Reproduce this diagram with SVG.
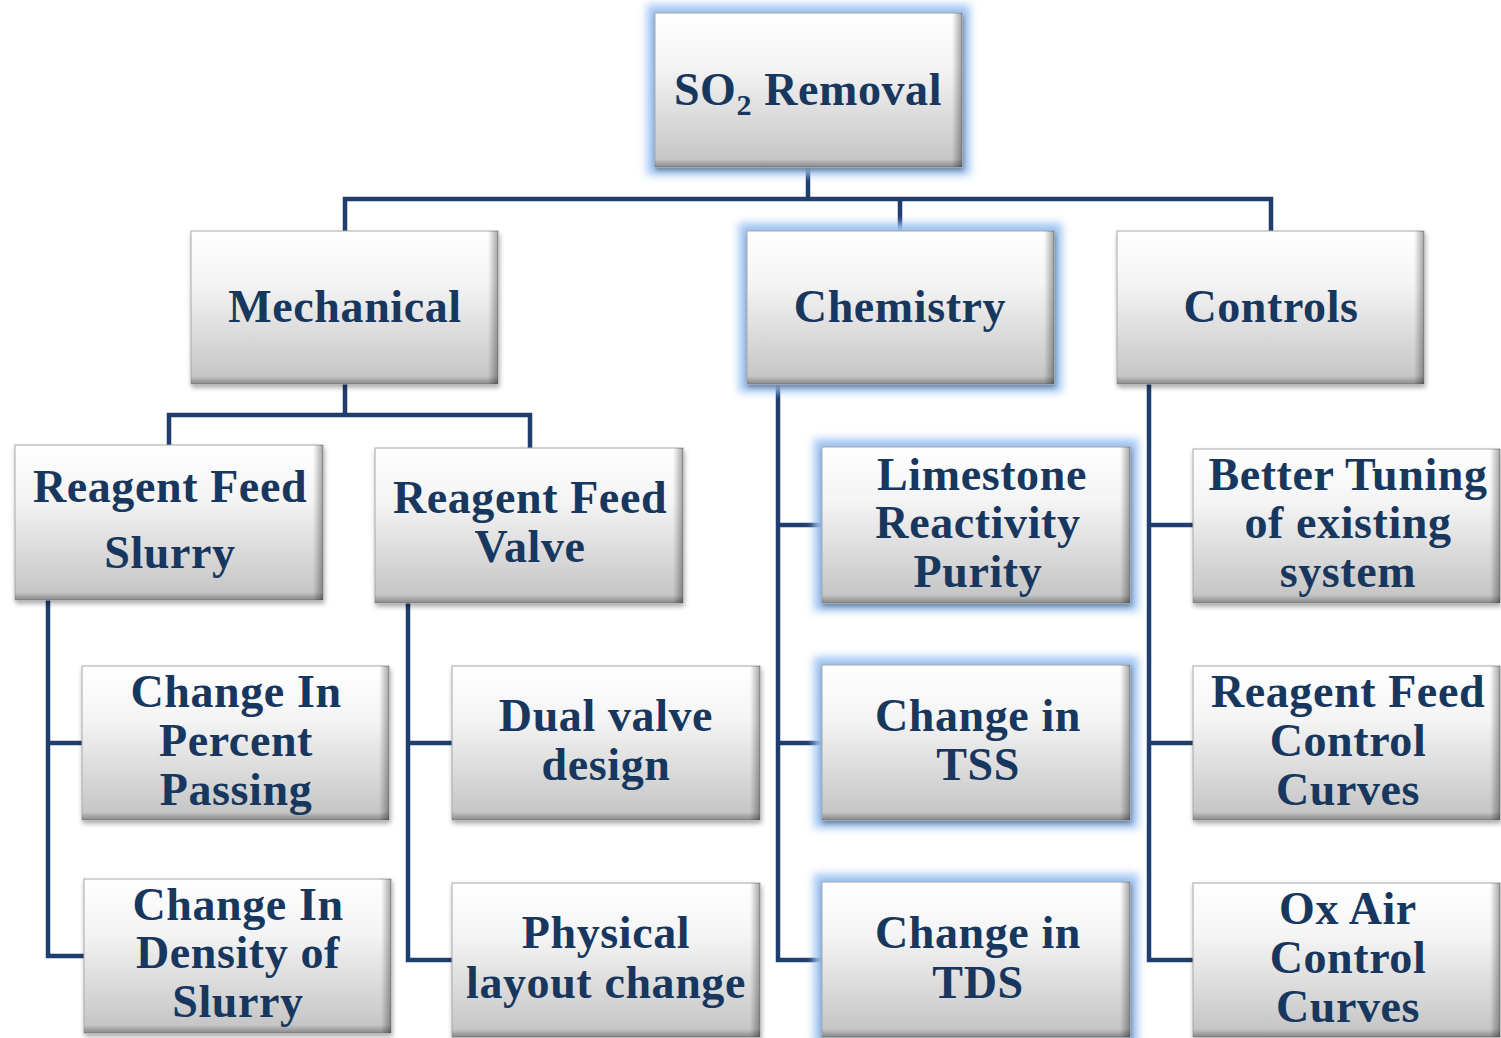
<svg xmlns="http://www.w3.org/2000/svg" width="1501" height="1038" viewBox="0 0 1501 1038">
<defs>
<linearGradient id="fill" x1="0" y1="0" x2="0" y2="1">
<stop offset="0" stop-color="#ffffff"/>
<stop offset="0.35" stop-color="#f4f4f4"/>
<stop offset="1" stop-color="#c2c2c2"/>
</linearGradient>
<linearGradient id="rgt" x1="0" y1="0" x2="1" y2="0">
<stop offset="0" stop-color="#000" stop-opacity="0"/>
<stop offset="1" stop-color="#000" stop-opacity="0.35"/>
</linearGradient>
<linearGradient id="bot" x1="0" y1="0" x2="0" y2="1">
<stop offset="0" stop-color="#000" stop-opacity="0"/>
<stop offset="1" stop-color="#000" stop-opacity="0.3"/>
</linearGradient>
<filter id="shadow" x="-10%" y="-10%" width="120%" height="125%">
<feDropShadow dx="1" dy="3" stdDeviation="2.5" flood-color="#000" flood-opacity="0.35"/>
</filter>
<filter id="glow" x="-20%" y="-20%" width="140%" height="140%">
<feGaussianBlur stdDeviation="4"/>
</filter>
</defs>
<style>
.box{fill:url(#fill);stroke:#a8a8a8;stroke-width:1;filter:url(#shadow)}
.glow{fill:none;stroke:#9fc4f3;stroke-width:16;filter:url(#glow)}
.r{fill:url(#rgt)}
.b{fill:url(#bot)}
.t{font-family:"Liberation Serif","Times New Roman",serif;font-weight:bold;font-size:46px;letter-spacing:0.6px;fill:#17375e;text-anchor:middle}
.c{fill:none;stroke:#1f3d6e;stroke-width:4.5}
</style>
<rect width="1501" height="1038" fill="#ffffff"/>
<g id="connectors">
<path class="c" d="M808 167V199M345 231V199H1271V231M900 199V231"/>
<path class="c" d="M345 384V415M169 445V415H530V448"/>
<path class="c" d="M48 600V956H84M48 743H82"/>
<path class="c" d="M408 603V960H452M408 743H452"/>
<path class="c" d="M778 384V960H822M778 525H822M778 743H822"/>
<path class="c" d="M1149 384V960H1193M1149 525H1193M1149 743H1193"/>
</g>
<g id="n_so2">
<rect class="glow" x="655" y="13" width="307" height="154"/>
<rect class="box" x="655" y="13" width="307" height="154"/>
<rect class="r" x="952" y="13" width="10" height="154"/><rect class="b" x="655" y="159" width="307" height="8"/>
<text class="t" x="808" y="105">SO<tspan font-size="30" dy="10">2</tspan><tspan dy="-10"> Removal</tspan></text>
</g>
<g id="n_mech">
<rect class="box" x="191" y="231" width="307" height="153"/>
<rect class="r" x="488" y="231" width="10" height="153"/><rect class="b" x="191" y="376" width="307" height="8"/>
<text class="t" x="345" y="322">Mechanical</text>
</g>
<g id="n_chem">
<rect class="glow" x="747" y="231" width="307" height="153"/>
<rect class="box" x="747" y="231" width="307" height="153"/>
<rect class="r" x="1044" y="231" width="10" height="153"/><rect class="b" x="747" y="376" width="307" height="8"/>
<text class="t" x="900" y="322">Chemistry</text>
</g>
<g id="n_ctrl">
<rect class="box" x="1117" y="231" width="307" height="153"/>
<rect class="r" x="1414" y="231" width="10" height="153"/><rect class="b" x="1117" y="376" width="307" height="8"/>
<text class="t" x="1271" y="322">Controls</text>
</g>
<g id="n_rfs">
<rect class="box" x="15" y="445" width="308" height="155"/>
<rect class="r" x="313" y="445" width="10" height="155"/><rect class="b" x="15" y="592" width="308" height="8"/>
<text class="t" x="170" y="502">Reagent Feed</text>
<text class="t" x="170" y="568">Slurry</text>
</g>
<g id="n_rfv">
<rect class="box" x="375" y="448" width="308" height="155"/>
<rect class="r" x="673" y="448" width="10" height="155"/><rect class="b" x="375" y="595" width="308" height="8"/>
<text class="t" x="530" y="513">Reagent Feed</text>
<text class="t" x="530" y="562">Valve</text>
</g>
<g id="n_cipp">
<rect class="box" x="82" y="666" width="307" height="154"/>
<rect class="r" x="379" y="666" width="10" height="154"/><rect class="b" x="82" y="812" width="307" height="8"/>
<text class="t" x="236" y="707">Change In</text>
<text class="t" x="236" y="756">Percent</text>
<text class="t" x="236" y="805">Passing</text>
</g>
<g id="n_cids">
<rect class="box" x="84" y="879" width="307" height="154"/>
<rect class="r" x="381" y="879" width="10" height="154"/><rect class="b" x="84" y="1025" width="307" height="8"/>
<text class="t" x="238" y="920">Change In</text>
<text class="t" x="238" y="968">Density of</text>
<text class="t" x="238" y="1017">Slurry</text>
</g>
<g id="n_dual">
<rect class="box" x="452" y="666" width="308" height="154"/>
<rect class="r" x="750" y="666" width="10" height="154"/><rect class="b" x="452" y="812" width="308" height="8"/>
<text class="t" x="606" y="731">Dual valve</text>
<text class="t" x="606" y="780">design</text>
</g>
<g id="n_phys">
<rect class="box" x="452" y="883" width="308" height="154"/>
<rect class="r" x="750" y="883" width="10" height="154"/><rect class="b" x="452" y="1029" width="308" height="8"/>
<text class="t" x="606" y="948">Physical</text>
<text class="t" x="606" y="998">layout change</text>
</g>
<g id="n_lime">
<rect class="glow" x="822" y="447" width="308" height="156"/>
<rect class="box" x="822" y="447" width="308" height="156"/>
<rect class="r" x="1120" y="447" width="10" height="156"/><rect class="b" x="822" y="595" width="308" height="8"/>
<text class="t" x="982" y="490">Limestone</text>
<text class="t" x="978" y="538">Reactivity</text>
<text class="t" x="978" y="587">Purity</text>
</g>
<g id="n_tss">
<rect class="glow" x="822" y="665" width="308" height="155"/>
<rect class="box" x="822" y="665" width="308" height="155"/>
<rect class="r" x="1120" y="665" width="10" height="155"/><rect class="b" x="822" y="812" width="308" height="8"/>
<text class="t" x="978" y="731">Change in</text>
<text class="t" x="978" y="780">TSS</text>
</g>
<g id="n_tds">
<rect class="glow" x="822" y="882" width="308" height="155"/>
<rect class="box" x="822" y="882" width="308" height="155"/>
<rect class="r" x="1120" y="882" width="10" height="155"/><rect class="b" x="822" y="1029" width="308" height="8"/>
<text class="t" x="978" y="948">Change in</text>
<text class="t" x="978" y="998">TDS</text>
</g>
<g id="n_tune">
<rect class="box" x="1193" y="449" width="307" height="154"/>
<rect class="r" x="1490" y="449" width="10" height="154"/><rect class="b" x="1193" y="595" width="307" height="8"/>
<text class="t" x="1348" y="490">Better Tuning</text>
<text class="t" x="1348" y="538">of existing</text>
<text class="t" x="1348" y="587">system</text>
</g>
<g id="n_rfcc">
<rect class="box" x="1193" y="666" width="307" height="154"/>
<rect class="r" x="1490" y="666" width="10" height="154"/><rect class="b" x="1193" y="812" width="307" height="8"/>
<text class="t" x="1348" y="707">Reagent Feed</text>
<text class="t" x="1348" y="756">Control</text>
<text class="t" x="1348" y="805">Curves</text>
</g>
<g id="n_ox">
<rect class="box" x="1193" y="883" width="307" height="154"/>
<rect class="r" x="1490" y="883" width="10" height="154"/><rect class="b" x="1193" y="1029" width="307" height="8"/>
<text class="t" x="1348" y="924">Ox Air</text>
<text class="t" x="1348" y="973">Control</text>
<text class="t" x="1348" y="1022">Curves</text>
</g>
</svg>
